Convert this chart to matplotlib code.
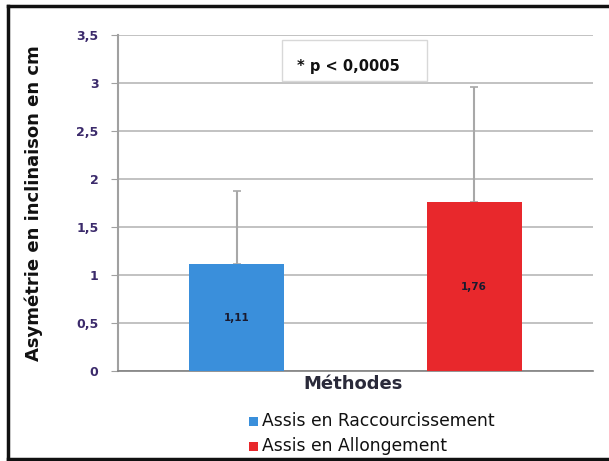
import matplotlib.pyplot as plt
from matplotlib.patches import Rectangle
from matplotlib.lines import Line2D

methodes = ["Assis en Raccourcissement", "Assis en Allongement"]
moyennes = [1.11, 1.76]
ecarts = [0.77, 1.20]
couleurs = ["#3a8fdb", "#e8282c"]
yticks = [0, 0.5, 1, 1.5, 2, 2.5, 3, 3.5]
ytick_labels = ["0", "0,5", "1", "1,5", "2", "2,5", "3", "3,5"]

fig = plt.figure(figsize=(6.09, 4.61), dpi=100)
W, H = 609, 461
ax = fig.add_axes([118 / W, 1 - 371 / H, (593 - 118) / W, (371 - 35) / H])

x = [0, 1]
ax.bar(x, moyennes, width=0.4, color=couleurs, zorder=3)
ax.errorbar(x, moyennes, yerr=[[0, 0], ecarts], fmt="none", ecolor="#a8a8a8",
            elinewidth=1.5, capsize=3, capthick=1.2, zorder=2)

for xi, m in zip(x, moyennes):
    ax.text(xi, m / 2, f"{m:.2f}".replace(".", ","), ha="center", va="center",
            fontsize=7.5, fontweight="bold", color="#1a1a2e", zorder=4)

ax.set_xlim(-0.5, 1.5)
ax.set_ylim(0, 3.5)
ax.set_yticks(yticks)
ax.set_yticklabels(ytick_labels, fontsize=9, fontweight="bold", color="#3b2a6b")
ax.set_xticks([])
ax.tick_params(axis="y", length=5, color="#a0a0a0", pad=9)
ax.yaxis.grid(True, color="#bdbdbd", linewidth=1.3, zorder=0)
for side in ["top", "right"]:
    ax.spines[side].set_visible(False)
ax.spines["left"].set_color("#a0a0a0")
ax.spines["left"].set_linewidth(1.5)
ax.spines["bottom"].set_color("#808080")
ax.spines["bottom"].set_linewidth(1.2)

ax.set_ylabel("Asymétrie en inclinaison en cm", fontsize=13, fontweight="bold",
              color="#111111", labelpad=24)

# encadré de significativité
fig.patches.append(Rectangle((282 / W, 1 - 81 / H), 145 / W, 41 / H,
                             transform=fig.transFigure, facecolor="white",
                             edgecolor="#d8d8d8", linewidth=1, zorder=5))
fig.text(348 / W, 1 - 66 / H, "* p < 0,0005", ha="center", va="center",
         fontsize=10.5, fontweight="bold", color="#111111", zorder=6)

fig.text(353 / W, 1 - 384 / H, "Méthodes", ha="center", va="center",
         fontsize=13, fontweight="bold", color="#2a2a3a")

# légende
for i, (nom, c) in enumerate(zip(methodes, couleurs)):
    y = 1 - (421 + 25 * i) / H
    fig.patches.append(Rectangle((249 / W, y - 4.5 / H), 9 / W, 9 / H,
                                 transform=fig.transFigure, facecolor=c,
                                 edgecolor="none"))
    fig.text(262 / W, y, nom, ha="left", va="center", fontsize=12.3,
             color="#111111")

# cadre extérieur
for (x0, y0, x1, y1) in [(8, 6, 8, 459), (8, 6, 609, 6), (8, 459, 609, 459)]:
    fig.add_artist(Line2D([x0 / W, x1 / W], [1 - y0 / H, 1 - y1 / H],
                          transform=fig.transFigure, color="#111111", linewidth=2.5))

fig.savefig("out.png", dpi=100, facecolor="white")
